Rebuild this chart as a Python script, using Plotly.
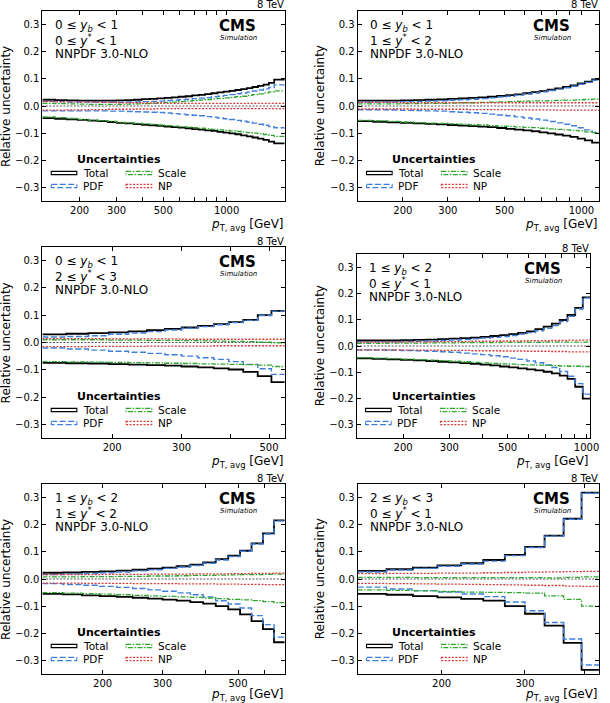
import math
import plotly.graph_objects as go

W, H = 610, 703
FONT = "DejaVu Sans"

# ---------------- data ----------------
EDGES = [133, 153, 174, 196, 220, 245, 272, 300, 330, 362, 395, 430, 468, 507, 548,
         592, 638, 686, 737, 790, 846, 905, 967, 1032, 1101, 1172, 1248, 1327, 1410,
         1497, 1588, 1684]

P1_EDGES = EDGES + [1890]
P2_EDGES = EDGES[:26]
P3_EDGES = EDGES[:15]
P4_EDGES = EDGES[:24]
P5_EDGES = EDGES[:18]
P6_EDGES = EDGES[:12]

P1_TOTAL_UP = [0.023, 0.022, 0.021, 0.020, 0.020, 0.020, 0.020, 0.021, 0.022, 0.023, 0.025, 0.026, 0.028, 0.030, 0.032, 0.034,
               0.036, 0.039, 0.041, 0.044, 0.047, 0.050, 0.053, 0.056, 0.059, 0.062, 0.066, 0.070, 0.074, 0.079, 0.085, 0.097]
P1_TOTAL_DN = [-0.045, -0.047, -0.049, -0.051, -0.054, -0.056, -0.059, -0.062, -0.064, -0.067, -0.069, -0.071, -0.073, -0.076, -0.078, -0.080,
               -0.082, -0.085, -0.087, -0.090, -0.092, -0.095, -0.098, -0.101, -0.104, -0.108, -0.112, -0.116, -0.120, -0.125, -0.131, -0.138]
P1_PDF_UP = [0.017, 0.016, 0.015, 0.015, 0.014, 0.014, 0.014, 0.014, 0.015, 0.015, 0.016, 0.017, 0.018, 0.020, 0.021, 0.023,
             0.025, 0.027, 0.029, 0.031, 0.034, 0.036, 0.039, 0.042, 0.045, 0.048, 0.051, 0.055, 0.059, 0.063, 0.068, 0.078]
P1_PDF_DN = [-0.018, -0.018, -0.018, -0.018, -0.018, -0.018, -0.019, -0.019, -0.020, -0.021, -0.022, -0.023, -0.024, -0.026, -0.028, -0.030,
             -0.032, -0.034, -0.036, -0.039, -0.041, -0.044, -0.047, -0.050, -0.053, -0.056, -0.059, -0.063, -0.067, -0.071, -0.076, -0.080]
P1_SCALE_UP = [0.010, 0.009, 0.008, 0.007, 0.006, 0.006, 0.006, 0.006, 0.007, 0.008, 0.009, 0.010, 0.011, 0.013, 0.014, 0.016,
               0.018, 0.020, 0.022, 0.024, 0.026, 0.028, 0.030, 0.032, 0.034, 0.036, 0.039, 0.042, 0.045, 0.048, 0.052, 0.056]
P1_SCALE_DN = [-0.040, -0.043, -0.046, -0.049, -0.052, -0.054, -0.057, -0.060, -0.062, -0.064, -0.066, -0.068, -0.070, -0.072, -0.074, -0.076,
               -0.078, -0.080, -0.082, -0.084, -0.086, -0.088, -0.090, -0.092, -0.094, -0.096, -0.098, -0.100, -0.102, -0.105, -0.108, -0.112]
P1_NP_UP = [0.016, 0.015, 0.015, 0.014, 0.014, 0.013, 0.013, 0.012, 0.012, 0.012, 0.011, 0.011, 0.011, 0.010, 0.010, 0.010,
            0.010, 0.010, 0.010, 0.010, 0.010, 0.010, 0.010, 0.010, 0.010, 0.010, 0.010, 0.010, 0.010, 0.010, 0.010, 0.010]
P1_NP_DN = [-0.015, -0.015, -0.014, -0.014, -0.013, -0.013, -0.012, -0.012, -0.012, -0.011, -0.011, -0.011, -0.010, -0.010, -0.010, -0.010,
            -0.010, -0.010, -0.010, -0.010, -0.010, -0.010, -0.010, -0.010, -0.010, -0.010, -0.010, -0.010, -0.010, -0.010, -0.010, -0.010]

P2_TOTAL_UP = [0.020, 0.020, 0.020, 0.021, 0.022, 0.023, 0.024, 0.026, 0.028, 0.030, 0.032, 0.034, 0.037,
               0.040, 0.043, 0.047, 0.051, 0.055, 0.060, 0.065, 0.070, 0.076, 0.083, 0.090, 0.098]
P2_TOTAL_DN = [-0.056, -0.058, -0.060, -0.062, -0.064, -0.066, -0.068, -0.070, -0.072, -0.074, -0.076, -0.078, -0.081,
               -0.084, -0.087, -0.090, -0.093, -0.097, -0.101, -0.105, -0.109, -0.114, -0.120, -0.127, -0.135]
P2_PDF_UP = [0.015, 0.015, 0.015, 0.016, 0.017, 0.018, 0.019, 0.021, 0.023, 0.025, 0.027, 0.030, 0.033,
             0.036, 0.040, 0.044, 0.048, 0.052, 0.057, 0.062, 0.067, 0.073, 0.080, 0.087, 0.095]
P2_PDF_DN = [-0.014, -0.014, -0.015, -0.016, -0.017, -0.018, -0.019, -0.021, -0.023, -0.025, -0.027, -0.030, -0.033,
             -0.036, -0.040, -0.044, -0.048, -0.052, -0.057, -0.062, -0.067, -0.073, -0.080, -0.088, -0.097]
P2_SCALE_UP = [0.008, 0.008, 0.008, 0.009, 0.009, 0.010, 0.010, 0.011, 0.012, 0.012, 0.013, 0.014, 0.015,
               0.016, 0.017, 0.018, 0.019, 0.019, 0.020, 0.021, 0.022, 0.022, 0.023, 0.024, 0.025]
P2_SCALE_DN = [-0.053, -0.055, -0.057, -0.059, -0.061, -0.063, -0.064, -0.066, -0.067, -0.069, -0.070, -0.072, -0.074,
               -0.075, -0.077, -0.079, -0.080, -0.082, -0.084, -0.086, -0.088, -0.090, -0.092, -0.095, -0.098]
P2_NP_UP = [0.013, 0.013, 0.013, 0.012, 0.012, 0.012, 0.012, 0.012, 0.012, 0.012, 0.012, 0.012, 0.012,
            0.012, 0.012, 0.012, 0.012, 0.012, 0.012, 0.012, 0.012, 0.012, 0.012, 0.012, 0.012]
P2_NP_DN = [-0.011, -0.011, -0.011, -0.011, -0.012, -0.012, -0.012, -0.012, -0.012, -0.013, -0.013, -0.013, -0.013,
            -0.013, -0.014, -0.014, -0.014, -0.014, -0.014, -0.015, -0.015, -0.015, -0.015, -0.015, -0.015]

P3_TOTAL_UP = [0.030, 0.032, 0.034, 0.037, 0.041, 0.045, 0.050, 0.055, 0.061, 0.067, 0.075, 0.083, 0.100, 0.116]
P3_TOTAL_DN = [-0.075, -0.076, -0.077, -0.079, -0.081, -0.083, -0.085, -0.088, -0.091, -0.095, -0.099, -0.108, -0.123, -0.145]
P3_PDF_UP = [0.020, 0.022, 0.025, 0.030, 0.035, 0.040, 0.046, 0.052, 0.058, 0.065, 0.073, 0.081, 0.099, 0.115]
P3_PDF_DN = [-0.020, -0.024, -0.028, -0.032, -0.036, -0.040, -0.045, -0.050, -0.056, -0.062, -0.070, -0.080, -0.096, -0.117]
P3_SCALE_UP = [0.010, 0.010, 0.010, 0.009, 0.009, 0.008, 0.008, 0.007, 0.006, 0.005, 0.004, 0.003, 0.001, -0.001]
P3_SCALE_DN = [-0.070, -0.071, -0.072, -0.073, -0.074, -0.075, -0.076, -0.077, -0.078, -0.079, -0.080, -0.081, -0.083, -0.088]
P3_NP_UP = [0.014, 0.014, 0.014, 0.013, 0.013, 0.013, 0.013, 0.012, 0.012, 0.012, 0.012, 0.012, 0.012, 0.012]
P3_NP_DN = [-0.015, -0.015, -0.014, -0.014, -0.014, -0.013, -0.013, -0.013, -0.013, -0.012, -0.012, -0.012, -0.012, -0.012]

P4_TOTAL_UP = [0.021, 0.021, 0.021, 0.022, 0.023, 0.024, 0.026, 0.028, 0.030, 0.032, 0.035, 0.038,
               0.041, 0.045, 0.050, 0.056, 0.064, 0.074, 0.085, 0.099, 0.118, 0.145, 0.185]
P4_TOTAL_DN = [-0.047, -0.049, -0.051, -0.053, -0.055, -0.057, -0.060, -0.062, -0.065, -0.068, -0.071, -0.074,
               -0.078, -0.081, -0.085, -0.089, -0.093, -0.098, -0.104, -0.113, -0.125, -0.155, -0.200]
P4_PDF_UP = [0.016, 0.016, 0.016, 0.017, 0.018, 0.019, 0.021, 0.023, 0.025, 0.027, 0.030, 0.033,
             0.036, 0.040, 0.045, 0.051, 0.058, 0.067, 0.078, 0.093, 0.113, 0.141, 0.183]
P4_PDF_DN = [-0.015, -0.015, -0.016, -0.017, -0.018, -0.020, -0.022, -0.024, -0.027, -0.030, -0.033, -0.037,
             -0.041, -0.046, -0.051, -0.057, -0.064, -0.072, -0.082, -0.097, -0.115, -0.143, -0.183]
P4_SCALE_UP = [0.010, 0.010, 0.011, 0.011, 0.011, 0.012, 0.012, 0.012, 0.013, 0.013, 0.013, 0.013,
               0.014, 0.014, 0.014, 0.014, 0.014, 0.015, 0.015, 0.015, 0.015, 0.015, 0.015]
P4_SCALE_DN = [-0.044, -0.046, -0.048, -0.050, -0.052, -0.054, -0.056, -0.058, -0.060, -0.062, -0.064, -0.066,
               -0.068, -0.069, -0.071, -0.072, -0.073, -0.074, -0.075, -0.076, -0.077, -0.077, -0.078]
P4_NP_UP = [0.015, 0.015, 0.015, 0.016, 0.016, 0.016, 0.017, 0.017, 0.017, 0.018, 0.018, 0.018,
            0.019, 0.019, 0.019, 0.020, 0.020, 0.020, 0.021, 0.021, 0.022, 0.022, 0.022]
P4_NP_DN = [-0.015, -0.015, -0.015, -0.016, -0.016, -0.016, -0.017, -0.017, -0.017, -0.018, -0.018, -0.018,
            -0.019, -0.019, -0.019, -0.020, -0.020, -0.020, -0.021, -0.021, -0.022, -0.022, -0.022]

P5_TOTAL_UP = [0.023, 0.024, 0.026, 0.028, 0.031, 0.034, 0.038, 0.042, 0.047, 0.053, 0.061, 0.073, 0.086, 0.104, 0.131, 0.168, 0.216]
P5_TOTAL_DN = [-0.055, -0.057, -0.060, -0.063, -0.066, -0.069, -0.072, -0.076, -0.080, -0.085, -0.091, -0.100, -0.112, -0.130, -0.155, -0.185, -0.233]
P5_PDF_UP = [0.016, 0.018, 0.020, 0.023, 0.026, 0.030, 0.034, 0.039, 0.044, 0.050, 0.058, 0.070, 0.083, 0.102, 0.129, 0.166, 0.214]
P5_PDF_DN = [-0.017, -0.020, -0.023, -0.027, -0.031, -0.035, -0.040, -0.045, -0.051, -0.058, -0.066, -0.080, -0.092, -0.107, -0.135, -0.168, -0.214]
P5_SCALE_UP = [0.008, 0.008, 0.009, 0.009, 0.010, 0.010, 0.011, 0.011, 0.012, 0.013, 0.013, 0.014, 0.015, 0.016, 0.016, 0.017, 0.018]
P5_SCALE_DN = [-0.050, -0.052, -0.054, -0.056, -0.058, -0.060, -0.062, -0.064, -0.066, -0.068, -0.070, -0.072, -0.075, -0.077, -0.080, -0.083, -0.087]
P5_NP_UP = [0.016, 0.016, 0.016, 0.017, 0.017, 0.017, 0.018, 0.018, 0.018, 0.019, 0.019, 0.019, 0.020, 0.020, 0.021, 0.021, 0.022]
P5_NP_DN = [-0.015, -0.015, -0.016, -0.016, -0.016, -0.017, -0.017, -0.017, -0.018, -0.018, -0.018, -0.019, -0.019, -0.020, -0.020, -0.021, -0.021]

P6_TOTAL_UP = [0.030, 0.036, 0.042, 0.050, 0.058, 0.070, 0.089, 0.118, 0.160, 0.222, 0.318]
P6_TOTAL_DN = [-0.055, -0.058, -0.063, -0.068, -0.073, -0.080, -0.100, -0.128, -0.172, -0.235, -0.335]
P6_PDF_UP = [0.026, 0.033, 0.039, 0.047, 0.055, 0.066, 0.086, 0.116, 0.158, 0.220, 0.316]
P6_PDF_DN = [-0.030, -0.037, -0.043, -0.048, -0.055, -0.065, -0.085, -0.117, -0.160, -0.221, -0.317]
P6_SCALE_UP = [0.006, 0.006, 0.005, 0.005, 0.005, 0.005, 0.005, 0.005, 0.004, 0.006, 0.008]
P6_SCALE_DN = [-0.040, -0.042, -0.044, -0.046, -0.048, -0.049, -0.050, -0.052, -0.062, -0.075, -0.100]
P6_NP_UP = [0.020, 0.021, 0.021, 0.022, 0.022, 0.023, 0.024, 0.025, 0.026, 0.027, 0.028]
P6_NP_DN = [-0.016, -0.017, -0.018, -0.019, -0.020, -0.021, -0.022, -0.023, -0.024, -0.026, -0.027]

YB_LABELS = ["0 ≤ <i>y</i><sub><i>b</i></sub> &lt; 1", "0 ≤ <i>y</i><sub><i>b</i></sub> &lt; 1",
             "0 ≤ <i>y</i><sub><i>b</i></sub> &lt; 1", "1 ≤ <i>y</i><sub><i>b</i></sub> &lt; 2",
             "1 ≤ <i>y</i><sub><i>b</i></sub> &lt; 2", "2 ≤ <i>y</i><sub><i>b</i></sub> &lt; 3"]
YSTAR_LABELS = ["0 ≤ <i>y</i><sup>*</sup> &lt; 1", "1 ≤ <i>y</i><sup>*</sup> &lt; 2",
                "2 ≤ <i>y</i><sup>*</sup> &lt; 3", "0 ≤ <i>y</i><sup>*</sup> &lt; 1",
                "1 ≤ <i>y</i><sup>*</sup> &lt; 2", "0 ≤ <i>y</i><sup>*</sup> &lt; 1"]
PDF_LABEL = "NNPDF 3.0-NLO"
X_TICKS = [200, 300, 400, 500, 600, 700, 800, 900, 1000]
X_TICK_LABELS = ["200", "300", "", "500", "", "", "", "", "1000"]
Y_TICKS = [-0.3, -0.2, -0.1, 0.0, 0.1, 0.2, 0.3]
LEGEND_NAMES = ["Total", "PDF", "Scale", "NP"]

PANELS = [
    dict(edges=P1_EDGES, tu=P1_TOTAL_UP, td=P1_TOTAL_DN, pu=P1_PDF_UP, pd=P1_PDF_DN, su=P1_SCALE_UP, sd=P1_SCALE_DN, nu=P1_NP_UP, nd=P1_NP_DN),
    dict(edges=P2_EDGES, tu=P2_TOTAL_UP, td=P2_TOTAL_DN, pu=P2_PDF_UP, pd=P2_PDF_DN, su=P2_SCALE_UP, sd=P2_SCALE_DN, nu=P2_NP_UP, nd=P2_NP_DN),
    dict(edges=P3_EDGES, tu=P3_TOTAL_UP, td=P3_TOTAL_DN, pu=P3_PDF_UP, pd=P3_PDF_DN, su=P3_SCALE_UP, sd=P3_SCALE_DN, nu=P3_NP_UP, nd=P3_NP_DN),
    dict(edges=P4_EDGES, tu=P4_TOTAL_UP, td=P4_TOTAL_DN, pu=P4_PDF_UP, pd=P4_PDF_DN, su=P4_SCALE_UP, sd=P4_SCALE_DN, nu=P4_NP_UP, nd=P4_NP_DN),
    dict(edges=P5_EDGES, tu=P5_TOTAL_UP, td=P5_TOTAL_DN, pu=P5_PDF_UP, pd=P5_PDF_DN, su=P5_SCALE_UP, sd=P5_SCALE_DN, nu=P5_NP_UP, nd=P5_NP_DN),
    dict(edges=P6_EDGES, tu=P6_TOTAL_UP, td=P6_TOTAL_DN, pu=P6_PDF_UP, pd=P6_PDF_DN, su=P6_SCALE_UP, sd=P6_SCALE_DN, nu=P6_NP_UP, nd=P6_NP_DN),
]

# ---------------- layout (pixel boxes) ----------------
BOXES = [(43, 11, 289, 201), (363, 11, 608, 201),
         (43, 247, 289, 438), (362, 254, 599, 438),
         (43, 484, 289, 674), (363, 484, 608, 674)]
YTITLE_X = [6, 325, 6, 325, 6, 325]
XTITLE_DY = [24, 24, 24, 24, 21, 21]

C_TOTAL = "#000000"
C_PDF = "#3f7fdc"
C_SCALE = "#2fa52f"
C_NP = "#d93a3a"
STYLES = {
    "t": dict(color=C_TOTAL, width=1.8, dash="solid"),
    "p": dict(color=C_PDF, width=1.4, dash="6px,2.5px"),
    "s": dict(color=C_SCALE, width=1.3, dash="5px,1.5px,1.5px,1.5px"),
    "n": dict(color=C_NP, width=1.3, dash="2px,1.5px"),
}


def fx(px):
    return px / W


def fy(py):
    return 1 - py / H


fig = go.Figure()
shapes = []
annotations = []
layout = {}

for i, p in enumerate(PANELS):
    n = i + 1
    xa = "x" if n == 1 else f"x{n}"
    ya = "y" if n == 1 else f"y{n}"
    x0, y0, x1, y1 = BOXES[i]
    edges = p["edges"]

    for key_up, key_dn, st in [("tu", "td", "t"), ("pu", "pd", "p"), ("su", "sd", "s"), ("nu", "nd", "n")]:
        for key in (key_up, key_dn):
            vals = p[key]
            fig.add_trace(go.Scatter(
                x=edges, y=vals + [vals[-1]], mode="lines",
                line=dict(shape="hv", **STYLES[st]),
                xaxis=xa, yaxis=ya, showlegend=False, hoverinfo="skip"))

    tv = [v for v in X_TICKS if edges[0] < v < edges[-1]]
    tt = [X_TICK_LABELS[X_TICKS.index(v)] for v in tv]
    axis_common = dict(showline=True, linecolor="black", linewidth=1, mirror="ticks",
                       ticks="inside", ticklen=4, tickwidth=0.8, tickcolor="black",
                       showgrid=False, zeroline=False,
                       tickfont=dict(family=FONT, size=10, color="black"))
    layout["xaxis" if n == 1 else f"xaxis{n}"] = dict(
        type="log", domain=[fx(x0), fx(x1)], anchor=ya,
        range=[math.log10(edges[0]), math.log10(edges[-1])],
        tickmode="array", tickvals=tv, ticktext=tt, **axis_common)
    layout["yaxis" if n == 1 else f"yaxis{n}"] = dict(
        domain=[fy(y1), fy(y0)], anchor=xa, range=[-0.35, 0.35],
        tickmode="array", tickvals=Y_TICKS, tickformat=".1f", **axis_common)

    # zero reference line
    shapes.append(dict(type="line", xref=f"{xa} domain", x0=0, x1=1, yref=ya, y0=0, y1=0,
                       line=dict(color="#555555", width=1, dash="2px,1.5px"), layer="below"))

    # texts
    for k, txt in enumerate([YB_LABELS[i], YSTAR_LABELS[i], PDF_LABEL]):
        annotations.append(dict(text=txt, xref="paper", yref="paper",
                                x=fx(x0 + 11), y=fy(y0 + 15 + 14 * k), xanchor="left", yanchor="middle",
                                showarrow=False, font=dict(family=FONT, size=12, color="black")))
    annotations.append(dict(text="<b>CMS</b>", xref="paper", yref="paper",
                            x=fx(x1 - 48), y=fy(y0 + 15), xanchor="center", yanchor="middle",
                            showarrow=False, font=dict(family=FONT, size=15, color="black")))
    annotations.append(dict(text="<i>Simulation</i>", xref="paper", yref="paper",
                            x=fx(x1 - 47), y=fy(y0 + 26.5), xanchor="center", yanchor="middle",
                            showarrow=False, font=dict(family=FONT, size=7, color="black")))
    annotations.append(dict(text="8 TeV", xref="paper", yref="paper",
                            x=fx(x1), y=fy(y0 - 6), xanchor="right", yanchor="middle",
                            showarrow=False, borderpad=0,
                            font=dict(family=FONT, size=10, color="black")))
    annotations.append(dict(text="<i>p</i><sub>T, avg</sub> [GeV]", xref="paper", yref="paper",
                            x=fx(x1), y=fy(y1 + XTITLE_DY[i]), xanchor="right", yanchor="middle",
                            showarrow=False, borderpad=0,
                            font=dict(family=FONT, size=12, color="black")))
    annotations.append(dict(text="Relative uncertainty", xref="paper", yref="paper",
                            x=fx(YTITLE_X[i]), y=fy((y0 + y1) / 2), xanchor="center", yanchor="middle",
                            textangle=-90, showarrow=False, font=dict(family=FONT, size=12, color="black")))

    # legend (drawn manually to get matplotlib-style patch handles)
    annotations.append(dict(text="<b>Uncertainties</b>", xref="paper", yref="paper",
                            x=fx(x0 + 78), y=fy(y1 - 42), xanchor="center", yanchor="middle",
                            showarrow=False, font=dict(family=FONT, size=11, color="black")))
    entries = [("t", LEGEND_NAMES[0], 0, 0), ("p", LEGEND_NAMES[1], 0, 1),
               ("s", LEGEND_NAMES[2], 1, 0), ("n", LEGEND_NAMES[3], 1, 1)]
    for st, name, col, row in entries:
        lx = x0 + 9 + col * 76
        ly = y1 - 28 + row * 13
        sty = STYLES[st]
        shapes.append(dict(type="rect", xref="paper", yref="paper",
                           x0=fx(lx), x1=fx(lx + 26), y0=fy(ly - 1.6), y1=fy(ly + 1.6),
                           line=dict(color=sty["color"], width=1.1, dash=sty["dash"])))
        annotations.append(dict(text=name, xref="paper", yref="paper",
                                x=fx(lx + 30), y=fy(ly), xanchor="left", yanchor="middle",
                                showarrow=False, font=dict(family=FONT, size=10.5, color="black")))

fig.update_layout(
    width=W, height=H, margin=dict(l=0, r=0, t=0, b=0),
    paper_bgcolor="white", plot_bgcolor="white",
    shapes=shapes, annotations=annotations, **layout)

fig.write_html("out.html", config={"displayModeBar": False},
               post_script="document.body.style.margin='0';document.body.style.overflow='hidden';")
